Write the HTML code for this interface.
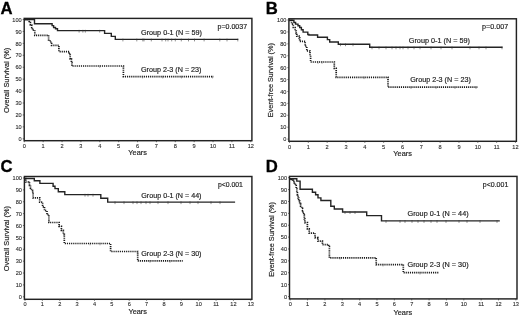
<!DOCTYPE html><html><head><meta charset="utf-8"><style>html,body{margin:0;padding:0;background:#fff;}svg{display:block;filter:grayscale(1);}text{font-family:"Liberation Sans",sans-serif;}</style></head><body>
<svg width="520" height="318" viewBox="0 0 520 318">
<rect width="520" height="318" fill="#fff"/>
<g><text x="0.6" y="14.0" font-size="16.7" font-weight="bold" fill="#000" stroke="#000" stroke-width="0.3">A</text><rect x="24.2" y="18.4" width="227.70" height="122.30" fill="none" stroke="#222" stroke-width="1.45"/><line x1="22.70" y1="138.80" x2="24.20" y2="138.80" stroke="#333" stroke-width="0.7"/><text x="21.70" y="141.00" font-size="5.6" text-anchor="end" fill="#2a2a2a" stroke="#2a2a2a" stroke-width="0.1">0</text><line x1="22.70" y1="126.87" x2="24.20" y2="126.87" stroke="#333" stroke-width="0.7"/><text x="21.70" y="129.07" font-size="5.6" text-anchor="end" fill="#2a2a2a" stroke="#2a2a2a" stroke-width="0.1">10</text><line x1="22.70" y1="114.94" x2="24.20" y2="114.94" stroke="#333" stroke-width="0.7"/><text x="21.70" y="117.14" font-size="5.6" text-anchor="end" fill="#2a2a2a" stroke="#2a2a2a" stroke-width="0.1">20</text><line x1="22.70" y1="103.01" x2="24.20" y2="103.01" stroke="#333" stroke-width="0.7"/><text x="21.70" y="105.21" font-size="5.6" text-anchor="end" fill="#2a2a2a" stroke="#2a2a2a" stroke-width="0.1">30</text><line x1="22.70" y1="91.08" x2="24.20" y2="91.08" stroke="#333" stroke-width="0.7"/><text x="21.70" y="93.28" font-size="5.6" text-anchor="end" fill="#2a2a2a" stroke="#2a2a2a" stroke-width="0.1">40</text><line x1="22.70" y1="79.15" x2="24.20" y2="79.15" stroke="#333" stroke-width="0.7"/><text x="21.70" y="81.35" font-size="5.6" text-anchor="end" fill="#2a2a2a" stroke="#2a2a2a" stroke-width="0.1">50</text><line x1="22.70" y1="67.22" x2="24.20" y2="67.22" stroke="#333" stroke-width="0.7"/><text x="21.70" y="69.42" font-size="5.6" text-anchor="end" fill="#2a2a2a" stroke="#2a2a2a" stroke-width="0.1">60</text><line x1="22.70" y1="55.29" x2="24.20" y2="55.29" stroke="#333" stroke-width="0.7"/><text x="21.70" y="57.49" font-size="5.6" text-anchor="end" fill="#2a2a2a" stroke="#2a2a2a" stroke-width="0.1">70</text><line x1="22.70" y1="43.36" x2="24.20" y2="43.36" stroke="#333" stroke-width="0.7"/><text x="21.70" y="45.56" font-size="5.6" text-anchor="end" fill="#2a2a2a" stroke="#2a2a2a" stroke-width="0.1">80</text><line x1="22.70" y1="31.43" x2="24.20" y2="31.43" stroke="#333" stroke-width="0.7"/><text x="21.70" y="33.63" font-size="5.6" text-anchor="end" fill="#2a2a2a" stroke="#2a2a2a" stroke-width="0.1">90</text><line x1="22.70" y1="19.50" x2="24.20" y2="19.50" stroke="#333" stroke-width="0.7"/><text x="21.70" y="21.70" font-size="5.6" text-anchor="end" fill="#2a2a2a" stroke="#2a2a2a" stroke-width="0.1">100</text><line x1="24.30" y1="140.70" x2="24.30" y2="142.20" stroke="#333" stroke-width="0.7"/><text x="24.30" y="147.70" font-size="5.6" text-anchor="middle" fill="#2a2a2a" stroke="#2a2a2a" stroke-width="0.1">0</text><line x1="43.17" y1="140.70" x2="43.17" y2="142.20" stroke="#333" stroke-width="0.7"/><text x="43.17" y="147.70" font-size="5.6" text-anchor="middle" fill="#2a2a2a" stroke="#2a2a2a" stroke-width="0.1">1</text><line x1="62.05" y1="140.70" x2="62.05" y2="142.20" stroke="#333" stroke-width="0.7"/><text x="62.05" y="147.70" font-size="5.6" text-anchor="middle" fill="#2a2a2a" stroke="#2a2a2a" stroke-width="0.1">2</text><line x1="80.92" y1="140.70" x2="80.92" y2="142.20" stroke="#333" stroke-width="0.7"/><text x="80.92" y="147.70" font-size="5.6" text-anchor="middle" fill="#2a2a2a" stroke="#2a2a2a" stroke-width="0.1">3</text><line x1="99.80" y1="140.70" x2="99.80" y2="142.20" stroke="#333" stroke-width="0.7"/><text x="99.80" y="147.70" font-size="5.6" text-anchor="middle" fill="#2a2a2a" stroke="#2a2a2a" stroke-width="0.1">4</text><line x1="118.67" y1="140.70" x2="118.67" y2="142.20" stroke="#333" stroke-width="0.7"/><text x="118.67" y="147.70" font-size="5.6" text-anchor="middle" fill="#2a2a2a" stroke="#2a2a2a" stroke-width="0.1">5</text><line x1="137.55" y1="140.70" x2="137.55" y2="142.20" stroke="#333" stroke-width="0.7"/><text x="137.55" y="147.70" font-size="5.6" text-anchor="middle" fill="#2a2a2a" stroke="#2a2a2a" stroke-width="0.1">6</text><line x1="156.43" y1="140.70" x2="156.43" y2="142.20" stroke="#333" stroke-width="0.7"/><text x="156.43" y="147.70" font-size="5.6" text-anchor="middle" fill="#2a2a2a" stroke="#2a2a2a" stroke-width="0.1">7</text><line x1="175.30" y1="140.70" x2="175.30" y2="142.20" stroke="#333" stroke-width="0.7"/><text x="175.30" y="147.70" font-size="5.6" text-anchor="middle" fill="#2a2a2a" stroke="#2a2a2a" stroke-width="0.1">8</text><line x1="194.18" y1="140.70" x2="194.18" y2="142.20" stroke="#333" stroke-width="0.7"/><text x="194.18" y="147.70" font-size="5.6" text-anchor="middle" fill="#2a2a2a" stroke="#2a2a2a" stroke-width="0.1">9</text><line x1="213.05" y1="140.70" x2="213.05" y2="142.20" stroke="#333" stroke-width="0.7"/><text x="213.05" y="147.70" font-size="5.6" text-anchor="middle" fill="#2a2a2a" stroke="#2a2a2a" stroke-width="0.1">10</text><line x1="231.93" y1="140.70" x2="231.93" y2="142.20" stroke="#333" stroke-width="0.7"/><text x="231.93" y="147.70" font-size="5.6" text-anchor="middle" fill="#2a2a2a" stroke="#2a2a2a" stroke-width="0.1">11</text><line x1="250.80" y1="140.70" x2="250.80" y2="142.20" stroke="#333" stroke-width="0.7"/><text x="250.80" y="147.70" font-size="5.6" text-anchor="middle" fill="#2a2a2a" stroke="#2a2a2a" stroke-width="0.1">12</text><text x="137.60" y="155.30" font-size="7.4" text-anchor="middle" fill="#1e1e1e" stroke="#1e1e1e" stroke-width="0.18" textLength="18.6" lengthAdjust="spacingAndGlyphs">Years</text><text transform="translate(8.80,80.40) rotate(-90)" font-size="7.3" text-anchor="middle" fill="#1e1e1e" stroke="#1e1e1e" stroke-width="0.18" textLength="65.3" lengthAdjust="spacingAndGlyphs">Overall Survival (%)</text><text x="217.60" y="28.90" font-size="7.3" fill="#1e1e1e" stroke="#1e1e1e" stroke-width="0.18" textLength="29.50" lengthAdjust="spacingAndGlyphs">p=0.0037</text><text x="141.00" y="34.90" font-size="7.3" fill="#1e1e1e" stroke="#1e1e1e" stroke-width="0.18" textLength="61.00" lengthAdjust="spacingAndGlyphs">Group 0-1 (N = 59)</text><text x="141.00" y="72.30" font-size="7.3" fill="#1e1e1e" stroke="#1e1e1e" stroke-width="0.18" textLength="60.50" lengthAdjust="spacingAndGlyphs">Group 2-3 (N = 23)</text><path d="M24.40,19.60H34.50V23.70H52.10V25.60H53.60V27.50H55.50V28.70H57.50V30.60H104.60V33.40H111.30V36.40H115.30V39.40H238.30" fill="none" stroke="#242424" stroke-width="1.4" stroke-linejoin="miter"/><line x1="79.1" y1="29.80" x2="79.1" y2="32.60" stroke="#333" stroke-width="0.55"/><line x1="82.9" y1="29.80" x2="82.9" y2="32.60" stroke="#333" stroke-width="0.55"/><line x1="85.3" y1="29.80" x2="85.3" y2="32.60" stroke="#333" stroke-width="0.55"/><line x1="99.7" y1="29.80" x2="99.7" y2="32.60" stroke="#333" stroke-width="0.55"/><line x1="122.9" y1="38.60" x2="122.9" y2="41.40" stroke="#333" stroke-width="0.55"/><line x1="136.8" y1="38.60" x2="136.8" y2="41.40" stroke="#333" stroke-width="0.55"/><line x1="142.8" y1="38.60" x2="142.8" y2="41.40" stroke="#333" stroke-width="0.55"/><line x1="144" y1="38.60" x2="144" y2="41.40" stroke="#333" stroke-width="0.55"/><line x1="151.3" y1="38.60" x2="151.3" y2="41.40" stroke="#333" stroke-width="0.55"/><line x1="162" y1="38.60" x2="162" y2="41.40" stroke="#333" stroke-width="0.55"/><line x1="165.7" y1="38.60" x2="165.7" y2="41.40" stroke="#333" stroke-width="0.55"/><line x1="168" y1="38.60" x2="168" y2="41.40" stroke="#333" stroke-width="0.55"/><line x1="171.7" y1="38.60" x2="171.7" y2="41.40" stroke="#333" stroke-width="0.55"/><line x1="175.3" y1="38.60" x2="175.3" y2="41.40" stroke="#333" stroke-width="0.55"/><line x1="181.3" y1="38.60" x2="181.3" y2="41.40" stroke="#333" stroke-width="0.55"/><line x1="188.5" y1="38.60" x2="188.5" y2="41.40" stroke="#333" stroke-width="0.55"/><line x1="194.5" y1="38.60" x2="194.5" y2="41.40" stroke="#333" stroke-width="0.55"/><line x1="204.1" y1="38.60" x2="204.1" y2="41.40" stroke="#333" stroke-width="0.55"/><line x1="219.8" y1="38.60" x2="219.8" y2="41.40" stroke="#333" stroke-width="0.55"/><line x1="227" y1="38.60" x2="227" y2="41.40" stroke="#333" stroke-width="0.55"/><line x1="237.8" y1="38.60" x2="237.8" y2="41.40" stroke="#333" stroke-width="0.55"/><path d="M24.40,19.60H29.20V22.50H30.40V25.00H31.70V27.50H32.50V30.20H34.80V35.30H48.60V40.00H50.00V42.00H51.60V45.30H58.90V51.60H69.20V54.50H70.20V58.90H71.40V62.70H71.90V66.00H123.40V76.60H213.40" fill="none" stroke="#1a1a1a" stroke-width="1.7" stroke-dasharray="1.15 0.95"/><line x1="99.8" y1="65.20" x2="99.8" y2="67.80" stroke="#444" stroke-width="0.5"/><line x1="142.6" y1="75.80" x2="142.6" y2="78.40" stroke="#444" stroke-width="0.5"/><line x1="162.7" y1="75.80" x2="162.7" y2="78.40" stroke="#444" stroke-width="0.5"/><line x1="181.5" y1="75.80" x2="181.5" y2="78.40" stroke="#444" stroke-width="0.5"/><line x1="212.5" y1="75.80" x2="212.5" y2="78.40" stroke="#444" stroke-width="0.5"/></g>
<g><text x="265.8" y="14.0" font-size="16.7" font-weight="bold" fill="#000" stroke="#000" stroke-width="0.3">B</text><rect x="288.9" y="18.8" width="227.50" height="122.50" fill="none" stroke="#222" stroke-width="1.45"/><line x1="287.40" y1="139.10" x2="288.90" y2="139.10" stroke="#333" stroke-width="0.7"/><text x="286.40" y="141.30" font-size="5.6" text-anchor="end" fill="#2a2a2a" stroke="#2a2a2a" stroke-width="0.1">0</text><line x1="287.40" y1="127.19" x2="288.90" y2="127.19" stroke="#333" stroke-width="0.7"/><text x="286.40" y="129.39" font-size="5.6" text-anchor="end" fill="#2a2a2a" stroke="#2a2a2a" stroke-width="0.1">10</text><line x1="287.40" y1="115.28" x2="288.90" y2="115.28" stroke="#333" stroke-width="0.7"/><text x="286.40" y="117.48" font-size="5.6" text-anchor="end" fill="#2a2a2a" stroke="#2a2a2a" stroke-width="0.1">20</text><line x1="287.40" y1="103.37" x2="288.90" y2="103.37" stroke="#333" stroke-width="0.7"/><text x="286.40" y="105.57" font-size="5.6" text-anchor="end" fill="#2a2a2a" stroke="#2a2a2a" stroke-width="0.1">30</text><line x1="287.40" y1="91.46" x2="288.90" y2="91.46" stroke="#333" stroke-width="0.7"/><text x="286.40" y="93.66" font-size="5.6" text-anchor="end" fill="#2a2a2a" stroke="#2a2a2a" stroke-width="0.1">40</text><line x1="287.40" y1="79.55" x2="288.90" y2="79.55" stroke="#333" stroke-width="0.7"/><text x="286.40" y="81.75" font-size="5.6" text-anchor="end" fill="#2a2a2a" stroke="#2a2a2a" stroke-width="0.1">50</text><line x1="287.40" y1="67.64" x2="288.90" y2="67.64" stroke="#333" stroke-width="0.7"/><text x="286.40" y="69.84" font-size="5.6" text-anchor="end" fill="#2a2a2a" stroke="#2a2a2a" stroke-width="0.1">60</text><line x1="287.40" y1="55.73" x2="288.90" y2="55.73" stroke="#333" stroke-width="0.7"/><text x="286.40" y="57.93" font-size="5.6" text-anchor="end" fill="#2a2a2a" stroke="#2a2a2a" stroke-width="0.1">70</text><line x1="287.40" y1="43.82" x2="288.90" y2="43.82" stroke="#333" stroke-width="0.7"/><text x="286.40" y="46.02" font-size="5.6" text-anchor="end" fill="#2a2a2a" stroke="#2a2a2a" stroke-width="0.1">80</text><line x1="287.40" y1="31.91" x2="288.90" y2="31.91" stroke="#333" stroke-width="0.7"/><text x="286.40" y="34.11" font-size="5.6" text-anchor="end" fill="#2a2a2a" stroke="#2a2a2a" stroke-width="0.1">90</text><line x1="287.40" y1="20.00" x2="288.90" y2="20.00" stroke="#333" stroke-width="0.7"/><text x="286.40" y="22.20" font-size="5.6" text-anchor="end" fill="#2a2a2a" stroke="#2a2a2a" stroke-width="0.1">100</text><line x1="289.50" y1="141.30" x2="289.50" y2="142.80" stroke="#333" stroke-width="0.7"/><text x="289.50" y="148.70" font-size="5.6" text-anchor="middle" fill="#2a2a2a" stroke="#2a2a2a" stroke-width="0.1">0</text><line x1="308.33" y1="141.30" x2="308.33" y2="142.80" stroke="#333" stroke-width="0.7"/><text x="308.33" y="148.70" font-size="5.6" text-anchor="middle" fill="#2a2a2a" stroke="#2a2a2a" stroke-width="0.1">1</text><line x1="327.16" y1="141.30" x2="327.16" y2="142.80" stroke="#333" stroke-width="0.7"/><text x="327.16" y="148.70" font-size="5.6" text-anchor="middle" fill="#2a2a2a" stroke="#2a2a2a" stroke-width="0.1">2</text><line x1="345.99" y1="141.30" x2="345.99" y2="142.80" stroke="#333" stroke-width="0.7"/><text x="345.99" y="148.70" font-size="5.6" text-anchor="middle" fill="#2a2a2a" stroke="#2a2a2a" stroke-width="0.1">3</text><line x1="364.82" y1="141.30" x2="364.82" y2="142.80" stroke="#333" stroke-width="0.7"/><text x="364.82" y="148.70" font-size="5.6" text-anchor="middle" fill="#2a2a2a" stroke="#2a2a2a" stroke-width="0.1">4</text><line x1="383.65" y1="141.30" x2="383.65" y2="142.80" stroke="#333" stroke-width="0.7"/><text x="383.65" y="148.70" font-size="5.6" text-anchor="middle" fill="#2a2a2a" stroke="#2a2a2a" stroke-width="0.1">5</text><line x1="402.48" y1="141.30" x2="402.48" y2="142.80" stroke="#333" stroke-width="0.7"/><text x="402.48" y="148.70" font-size="5.6" text-anchor="middle" fill="#2a2a2a" stroke="#2a2a2a" stroke-width="0.1">6</text><line x1="421.31" y1="141.30" x2="421.31" y2="142.80" stroke="#333" stroke-width="0.7"/><text x="421.31" y="148.70" font-size="5.6" text-anchor="middle" fill="#2a2a2a" stroke="#2a2a2a" stroke-width="0.1">7</text><line x1="440.14" y1="141.30" x2="440.14" y2="142.80" stroke="#333" stroke-width="0.7"/><text x="440.14" y="148.70" font-size="5.6" text-anchor="middle" fill="#2a2a2a" stroke="#2a2a2a" stroke-width="0.1">8</text><line x1="458.97" y1="141.30" x2="458.97" y2="142.80" stroke="#333" stroke-width="0.7"/><text x="458.97" y="148.70" font-size="5.6" text-anchor="middle" fill="#2a2a2a" stroke="#2a2a2a" stroke-width="0.1">9</text><line x1="477.80" y1="141.30" x2="477.80" y2="142.80" stroke="#333" stroke-width="0.7"/><text x="477.80" y="148.70" font-size="5.6" text-anchor="middle" fill="#2a2a2a" stroke="#2a2a2a" stroke-width="0.1">10</text><line x1="496.63" y1="141.30" x2="496.63" y2="142.80" stroke="#333" stroke-width="0.7"/><text x="496.63" y="148.70" font-size="5.6" text-anchor="middle" fill="#2a2a2a" stroke="#2a2a2a" stroke-width="0.1">11</text><line x1="515.46" y1="141.30" x2="515.46" y2="142.80" stroke="#333" stroke-width="0.7"/><text x="515.46" y="148.70" font-size="5.6" text-anchor="middle" fill="#2a2a2a" stroke="#2a2a2a" stroke-width="0.1">12</text><text x="402.60" y="155.90" font-size="7.4" text-anchor="middle" fill="#1e1e1e" stroke="#1e1e1e" stroke-width="0.18" textLength="18.6" lengthAdjust="spacingAndGlyphs">Years</text><text transform="translate(273.40,80.20) rotate(-90)" font-size="7.3" text-anchor="middle" fill="#1e1e1e" stroke="#1e1e1e" stroke-width="0.18" textLength="74.0" lengthAdjust="spacingAndGlyphs">Event-free Survival (%)</text><text x="482.00" y="29.00" font-size="7.3" fill="#1e1e1e" stroke="#1e1e1e" stroke-width="0.18" textLength="26.20" lengthAdjust="spacingAndGlyphs">p=0.007</text><text x="408.80" y="42.70" font-size="7.3" fill="#1e1e1e" stroke="#1e1e1e" stroke-width="0.18" textLength="61.20" lengthAdjust="spacingAndGlyphs">Group 0-1 (N = 59)</text><text x="410.20" y="82.20" font-size="7.3" fill="#1e1e1e" stroke="#1e1e1e" stroke-width="0.18" textLength="60.60" lengthAdjust="spacingAndGlyphs">Group 2-3 (N = 23)</text><path d="M289.30,20.30H293.90V22.50H295.60V24.10H298.00V25.80H299.70V27.50H301.40V29.80H303.10V32.10H307.80V34.50H308.90V35.00H317.60V37.30H327.40V39.60H329.70V42.00H338.30V44.20H369.70V47.30H502.60" fill="none" stroke="#242424" stroke-width="1.4" stroke-linejoin="miter"/><line x1="340.5" y1="43.40" x2="340.5" y2="46.20" stroke="#333" stroke-width="0.55"/><line x1="345.5" y1="43.40" x2="345.5" y2="46.20" stroke="#333" stroke-width="0.55"/><line x1="353" y1="43.40" x2="353" y2="46.20" stroke="#333" stroke-width="0.55"/><line x1="372" y1="46.50" x2="372" y2="49.30" stroke="#333" stroke-width="0.55"/><line x1="379" y1="46.50" x2="379" y2="49.30" stroke="#333" stroke-width="0.55"/><line x1="386" y1="46.50" x2="386" y2="49.30" stroke="#333" stroke-width="0.55"/><line x1="392" y1="46.50" x2="392" y2="49.30" stroke="#333" stroke-width="0.55"/><line x1="396" y1="46.50" x2="396" y2="49.30" stroke="#333" stroke-width="0.55"/><line x1="400" y1="46.50" x2="400" y2="49.30" stroke="#333" stroke-width="0.55"/><line x1="403" y1="46.50" x2="403" y2="49.30" stroke="#333" stroke-width="0.55"/><line x1="408" y1="46.50" x2="408" y2="49.30" stroke="#333" stroke-width="0.55"/><line x1="414" y1="46.50" x2="414" y2="49.30" stroke="#333" stroke-width="0.55"/><line x1="420" y1="46.50" x2="420" y2="49.30" stroke="#333" stroke-width="0.55"/><line x1="431" y1="46.50" x2="431" y2="49.30" stroke="#333" stroke-width="0.55"/><line x1="441" y1="46.50" x2="441" y2="49.30" stroke="#333" stroke-width="0.55"/><line x1="452" y1="46.50" x2="452" y2="49.30" stroke="#333" stroke-width="0.55"/><line x1="470" y1="46.50" x2="470" y2="49.30" stroke="#333" stroke-width="0.55"/><line x1="479" y1="46.50" x2="479" y2="49.30" stroke="#333" stroke-width="0.55"/><line x1="486" y1="46.50" x2="486" y2="49.30" stroke="#333" stroke-width="0.55"/><line x1="502" y1="46.50" x2="502" y2="49.30" stroke="#333" stroke-width="0.55"/><path d="M289.30,20.30H291.60V24.10H293.30V27.50H295.10V31.00H296.20V33.30H296.80V36.20H299.10V37.90H299.70V41.30H305.20V46.30H306.80V51.00H310.00V55.70H310.60V62.00H334.30V68.30H336.20V77.30H388.00V87.20H477.40" fill="none" stroke="#1a1a1a" stroke-width="1.7" stroke-dasharray="1.15 0.95"/><line x1="318" y1="61.20" x2="318" y2="63.80" stroke="#444" stroke-width="0.5"/><line x1="322" y1="61.20" x2="322" y2="63.80" stroke="#444" stroke-width="0.5"/><line x1="364" y1="76.50" x2="364" y2="79.10" stroke="#444" stroke-width="0.5"/><line x1="411" y1="86.40" x2="411" y2="89.00" stroke="#444" stroke-width="0.5"/><line x1="436" y1="86.40" x2="436" y2="89.00" stroke="#444" stroke-width="0.5"/><line x1="455" y1="86.40" x2="455" y2="89.00" stroke="#444" stroke-width="0.5"/><line x1="476" y1="86.40" x2="476" y2="89.00" stroke="#444" stroke-width="0.5"/></g>
<g><text x="0.6" y="171.6" font-size="16.7" font-weight="bold" fill="#000" stroke="#000" stroke-width="0.3">C</text><rect x="24.4" y="176.5" width="227.50" height="122.80" fill="none" stroke="#222" stroke-width="1.45"/><line x1="22.90" y1="296.80" x2="24.40" y2="296.80" stroke="#333" stroke-width="0.7"/><text x="21.90" y="299.00" font-size="5.6" text-anchor="end" fill="#2a2a2a" stroke="#2a2a2a" stroke-width="0.1">0</text><line x1="22.90" y1="284.92" x2="24.40" y2="284.92" stroke="#333" stroke-width="0.7"/><text x="21.90" y="287.12" font-size="5.6" text-anchor="end" fill="#2a2a2a" stroke="#2a2a2a" stroke-width="0.1">10</text><line x1="22.90" y1="273.04" x2="24.40" y2="273.04" stroke="#333" stroke-width="0.7"/><text x="21.90" y="275.24" font-size="5.6" text-anchor="end" fill="#2a2a2a" stroke="#2a2a2a" stroke-width="0.1">20</text><line x1="22.90" y1="261.16" x2="24.40" y2="261.16" stroke="#333" stroke-width="0.7"/><text x="21.90" y="263.36" font-size="5.6" text-anchor="end" fill="#2a2a2a" stroke="#2a2a2a" stroke-width="0.1">30</text><line x1="22.90" y1="249.28" x2="24.40" y2="249.28" stroke="#333" stroke-width="0.7"/><text x="21.90" y="251.48" font-size="5.6" text-anchor="end" fill="#2a2a2a" stroke="#2a2a2a" stroke-width="0.1">40</text><line x1="22.90" y1="237.40" x2="24.40" y2="237.40" stroke="#333" stroke-width="0.7"/><text x="21.90" y="239.60" font-size="5.6" text-anchor="end" fill="#2a2a2a" stroke="#2a2a2a" stroke-width="0.1">50</text><line x1="22.90" y1="225.52" x2="24.40" y2="225.52" stroke="#333" stroke-width="0.7"/><text x="21.90" y="227.72" font-size="5.6" text-anchor="end" fill="#2a2a2a" stroke="#2a2a2a" stroke-width="0.1">60</text><line x1="22.90" y1="213.64" x2="24.40" y2="213.64" stroke="#333" stroke-width="0.7"/><text x="21.90" y="215.84" font-size="5.6" text-anchor="end" fill="#2a2a2a" stroke="#2a2a2a" stroke-width="0.1">70</text><line x1="22.90" y1="201.76" x2="24.40" y2="201.76" stroke="#333" stroke-width="0.7"/><text x="21.90" y="203.96" font-size="5.6" text-anchor="end" fill="#2a2a2a" stroke="#2a2a2a" stroke-width="0.1">80</text><line x1="22.90" y1="189.88" x2="24.40" y2="189.88" stroke="#333" stroke-width="0.7"/><text x="21.90" y="192.08" font-size="5.6" text-anchor="end" fill="#2a2a2a" stroke="#2a2a2a" stroke-width="0.1">90</text><line x1="22.90" y1="178.00" x2="24.40" y2="178.00" stroke="#333" stroke-width="0.7"/><text x="21.90" y="180.20" font-size="5.6" text-anchor="end" fill="#2a2a2a" stroke="#2a2a2a" stroke-width="0.1">100</text><line x1="25.00" y1="299.30" x2="25.00" y2="300.80" stroke="#333" stroke-width="0.7"/><text x="25.00" y="306.30" font-size="5.6" text-anchor="middle" fill="#2a2a2a" stroke="#2a2a2a" stroke-width="0.1">0</text><line x1="42.37" y1="299.30" x2="42.37" y2="300.80" stroke="#333" stroke-width="0.7"/><text x="42.37" y="306.30" font-size="5.6" text-anchor="middle" fill="#2a2a2a" stroke="#2a2a2a" stroke-width="0.1">1</text><line x1="59.74" y1="299.30" x2="59.74" y2="300.80" stroke="#333" stroke-width="0.7"/><text x="59.74" y="306.30" font-size="5.6" text-anchor="middle" fill="#2a2a2a" stroke="#2a2a2a" stroke-width="0.1">2</text><line x1="77.11" y1="299.30" x2="77.11" y2="300.80" stroke="#333" stroke-width="0.7"/><text x="77.11" y="306.30" font-size="5.6" text-anchor="middle" fill="#2a2a2a" stroke="#2a2a2a" stroke-width="0.1">3</text><line x1="94.48" y1="299.30" x2="94.48" y2="300.80" stroke="#333" stroke-width="0.7"/><text x="94.48" y="306.30" font-size="5.6" text-anchor="middle" fill="#2a2a2a" stroke="#2a2a2a" stroke-width="0.1">4</text><line x1="111.85" y1="299.30" x2="111.85" y2="300.80" stroke="#333" stroke-width="0.7"/><text x="111.85" y="306.30" font-size="5.6" text-anchor="middle" fill="#2a2a2a" stroke="#2a2a2a" stroke-width="0.1">5</text><line x1="129.22" y1="299.30" x2="129.22" y2="300.80" stroke="#333" stroke-width="0.7"/><text x="129.22" y="306.30" font-size="5.6" text-anchor="middle" fill="#2a2a2a" stroke="#2a2a2a" stroke-width="0.1">6</text><line x1="146.59" y1="299.30" x2="146.59" y2="300.80" stroke="#333" stroke-width="0.7"/><text x="146.59" y="306.30" font-size="5.6" text-anchor="middle" fill="#2a2a2a" stroke="#2a2a2a" stroke-width="0.1">7</text><line x1="163.96" y1="299.30" x2="163.96" y2="300.80" stroke="#333" stroke-width="0.7"/><text x="163.96" y="306.30" font-size="5.6" text-anchor="middle" fill="#2a2a2a" stroke="#2a2a2a" stroke-width="0.1">8</text><line x1="181.33" y1="299.30" x2="181.33" y2="300.80" stroke="#333" stroke-width="0.7"/><text x="181.33" y="306.30" font-size="5.6" text-anchor="middle" fill="#2a2a2a" stroke="#2a2a2a" stroke-width="0.1">9</text><line x1="198.70" y1="299.30" x2="198.70" y2="300.80" stroke="#333" stroke-width="0.7"/><text x="198.70" y="306.30" font-size="5.6" text-anchor="middle" fill="#2a2a2a" stroke="#2a2a2a" stroke-width="0.1">10</text><line x1="216.07" y1="299.30" x2="216.07" y2="300.80" stroke="#333" stroke-width="0.7"/><text x="216.07" y="306.30" font-size="5.6" text-anchor="middle" fill="#2a2a2a" stroke="#2a2a2a" stroke-width="0.1">11</text><line x1="233.44" y1="299.30" x2="233.44" y2="300.80" stroke="#333" stroke-width="0.7"/><text x="233.44" y="306.30" font-size="5.6" text-anchor="middle" fill="#2a2a2a" stroke="#2a2a2a" stroke-width="0.1">12</text><line x1="250.81" y1="299.30" x2="250.81" y2="300.80" stroke="#333" stroke-width="0.7"/><text x="250.81" y="306.30" font-size="5.6" text-anchor="middle" fill="#2a2a2a" stroke="#2a2a2a" stroke-width="0.1">13</text><text x="137.70" y="314.40" font-size="7.4" text-anchor="middle" fill="#1e1e1e" stroke="#1e1e1e" stroke-width="0.18" textLength="18.6" lengthAdjust="spacingAndGlyphs">Years</text><text transform="translate(9.00,238.60) rotate(-90)" font-size="7.3" text-anchor="middle" fill="#1e1e1e" stroke="#1e1e1e" stroke-width="0.18" textLength="65.3" lengthAdjust="spacingAndGlyphs">Overall Survival (%)</text><text x="217.90" y="187.10" font-size="7.3" fill="#1e1e1e" stroke="#1e1e1e" stroke-width="0.18" textLength="25.00" lengthAdjust="spacingAndGlyphs">p<0.001</text><text x="141.30" y="198.20" font-size="7.3" fill="#1e1e1e" stroke="#1e1e1e" stroke-width="0.18" textLength="60.20" lengthAdjust="spacingAndGlyphs">Group 0-1 (N = 44)</text><text x="141.30" y="256.40" font-size="7.3" fill="#1e1e1e" stroke="#1e1e1e" stroke-width="0.18" textLength="60.20" lengthAdjust="spacingAndGlyphs">Group 2-3 (N = 30)</text><path d="M24.80,178.50H34.30V180.70H39.90V183.40H53.10V186.30H55.00V188.60H58.30V191.70H64.80V194.60H100.80V198.30H107.70V202.10H235.10" fill="none" stroke="#242424" stroke-width="1.4" stroke-linejoin="miter"/><line x1="85" y1="193.80" x2="85" y2="196.60" stroke="#333" stroke-width="0.55"/><line x1="88" y1="193.80" x2="88" y2="196.60" stroke="#333" stroke-width="0.55"/><line x1="93" y1="193.80" x2="93" y2="196.60" stroke="#333" stroke-width="0.55"/><line x1="115" y1="201.30" x2="115" y2="204.10" stroke="#333" stroke-width="0.55"/><line x1="124" y1="201.30" x2="124" y2="204.10" stroke="#333" stroke-width="0.55"/><line x1="133" y1="201.30" x2="133" y2="204.10" stroke="#333" stroke-width="0.55"/><line x1="137" y1="201.30" x2="137" y2="204.10" stroke="#333" stroke-width="0.55"/><line x1="141" y1="201.30" x2="141" y2="204.10" stroke="#333" stroke-width="0.55"/><line x1="146" y1="201.30" x2="146" y2="204.10" stroke="#333" stroke-width="0.55"/><line x1="150" y1="201.30" x2="150" y2="204.10" stroke="#333" stroke-width="0.55"/><line x1="158" y1="201.30" x2="158" y2="204.10" stroke="#333" stroke-width="0.55"/><line x1="168" y1="201.30" x2="168" y2="204.10" stroke="#333" stroke-width="0.55"/><line x1="181" y1="201.30" x2="181" y2="204.10" stroke="#333" stroke-width="0.55"/><line x1="190" y1="201.30" x2="190" y2="204.10" stroke="#333" stroke-width="0.55"/><line x1="198" y1="201.30" x2="198" y2="204.10" stroke="#333" stroke-width="0.55"/><line x1="211" y1="201.30" x2="211" y2="204.10" stroke="#333" stroke-width="0.55"/><line x1="220" y1="201.30" x2="220" y2="204.10" stroke="#333" stroke-width="0.55"/><path d="M24.80,178.50H25.80V182.00H28.60V183.00H29.50V185.30H30.50V188.20H31.40V190.50H32.80V192.90H33.10V197.90H39.70V202.10H42.60V206.80H44.50V210.70H47.00V214.70H48.90V222.50H59.10V226.40H61.40V230.40H63.30V234.30H64.30V243.50H110.60V251.50H137.70V260.90H182.70" fill="none" stroke="#1a1a1a" stroke-width="1.7" stroke-dasharray="1.15 0.95"/><line x1="90" y1="242.70" x2="90" y2="245.30" stroke="#444" stroke-width="0.5"/><line x1="100" y1="242.70" x2="100" y2="245.30" stroke="#444" stroke-width="0.5"/><line x1="150" y1="260.10" x2="150" y2="262.70" stroke="#444" stroke-width="0.5"/><line x1="170" y1="260.10" x2="170" y2="262.70" stroke="#444" stroke-width="0.5"/></g>
<g><text x="265.8" y="171.6" font-size="16.7" font-weight="bold" fill="#000" stroke="#000" stroke-width="0.3">D</text><rect x="289.5" y="176.4" width="227.50" height="122.50" fill="none" stroke="#222" stroke-width="1.45"/><line x1="288.00" y1="296.50" x2="289.50" y2="296.50" stroke="#333" stroke-width="0.7"/><text x="287.00" y="298.70" font-size="5.6" text-anchor="end" fill="#2a2a2a" stroke="#2a2a2a" stroke-width="0.1">0</text><line x1="288.00" y1="284.62" x2="289.50" y2="284.62" stroke="#333" stroke-width="0.7"/><text x="287.00" y="286.82" font-size="5.6" text-anchor="end" fill="#2a2a2a" stroke="#2a2a2a" stroke-width="0.1">10</text><line x1="288.00" y1="272.74" x2="289.50" y2="272.74" stroke="#333" stroke-width="0.7"/><text x="287.00" y="274.94" font-size="5.6" text-anchor="end" fill="#2a2a2a" stroke="#2a2a2a" stroke-width="0.1">20</text><line x1="288.00" y1="260.86" x2="289.50" y2="260.86" stroke="#333" stroke-width="0.7"/><text x="287.00" y="263.06" font-size="5.6" text-anchor="end" fill="#2a2a2a" stroke="#2a2a2a" stroke-width="0.1">30</text><line x1="288.00" y1="248.98" x2="289.50" y2="248.98" stroke="#333" stroke-width="0.7"/><text x="287.00" y="251.18" font-size="5.6" text-anchor="end" fill="#2a2a2a" stroke="#2a2a2a" stroke-width="0.1">40</text><line x1="288.00" y1="237.10" x2="289.50" y2="237.10" stroke="#333" stroke-width="0.7"/><text x="287.00" y="239.30" font-size="5.6" text-anchor="end" fill="#2a2a2a" stroke="#2a2a2a" stroke-width="0.1">50</text><line x1="288.00" y1="225.22" x2="289.50" y2="225.22" stroke="#333" stroke-width="0.7"/><text x="287.00" y="227.42" font-size="5.6" text-anchor="end" fill="#2a2a2a" stroke="#2a2a2a" stroke-width="0.1">60</text><line x1="288.00" y1="213.34" x2="289.50" y2="213.34" stroke="#333" stroke-width="0.7"/><text x="287.00" y="215.54" font-size="5.6" text-anchor="end" fill="#2a2a2a" stroke="#2a2a2a" stroke-width="0.1">70</text><line x1="288.00" y1="201.46" x2="289.50" y2="201.46" stroke="#333" stroke-width="0.7"/><text x="287.00" y="203.66" font-size="5.6" text-anchor="end" fill="#2a2a2a" stroke="#2a2a2a" stroke-width="0.1">80</text><line x1="288.00" y1="189.58" x2="289.50" y2="189.58" stroke="#333" stroke-width="0.7"/><text x="287.00" y="191.78" font-size="5.6" text-anchor="end" fill="#2a2a2a" stroke="#2a2a2a" stroke-width="0.1">90</text><line x1="288.00" y1="177.70" x2="289.50" y2="177.70" stroke="#333" stroke-width="0.7"/><text x="287.00" y="179.90" font-size="5.6" text-anchor="end" fill="#2a2a2a" stroke="#2a2a2a" stroke-width="0.1">100</text><line x1="290.20" y1="298.90" x2="290.20" y2="300.40" stroke="#333" stroke-width="0.7"/><text x="290.20" y="305.90" font-size="5.6" text-anchor="middle" fill="#2a2a2a" stroke="#2a2a2a" stroke-width="0.1">0</text><line x1="307.56" y1="298.90" x2="307.56" y2="300.40" stroke="#333" stroke-width="0.7"/><text x="307.56" y="305.90" font-size="5.6" text-anchor="middle" fill="#2a2a2a" stroke="#2a2a2a" stroke-width="0.1">1</text><line x1="324.92" y1="298.90" x2="324.92" y2="300.40" stroke="#333" stroke-width="0.7"/><text x="324.92" y="305.90" font-size="5.6" text-anchor="middle" fill="#2a2a2a" stroke="#2a2a2a" stroke-width="0.1">2</text><line x1="342.28" y1="298.90" x2="342.28" y2="300.40" stroke="#333" stroke-width="0.7"/><text x="342.28" y="305.90" font-size="5.6" text-anchor="middle" fill="#2a2a2a" stroke="#2a2a2a" stroke-width="0.1">3</text><line x1="359.64" y1="298.90" x2="359.64" y2="300.40" stroke="#333" stroke-width="0.7"/><text x="359.64" y="305.90" font-size="5.6" text-anchor="middle" fill="#2a2a2a" stroke="#2a2a2a" stroke-width="0.1">4</text><line x1="377.00" y1="298.90" x2="377.00" y2="300.40" stroke="#333" stroke-width="0.7"/><text x="377.00" y="305.90" font-size="5.6" text-anchor="middle" fill="#2a2a2a" stroke="#2a2a2a" stroke-width="0.1">5</text><line x1="394.36" y1="298.90" x2="394.36" y2="300.40" stroke="#333" stroke-width="0.7"/><text x="394.36" y="305.90" font-size="5.6" text-anchor="middle" fill="#2a2a2a" stroke="#2a2a2a" stroke-width="0.1">6</text><line x1="411.72" y1="298.90" x2="411.72" y2="300.40" stroke="#333" stroke-width="0.7"/><text x="411.72" y="305.90" font-size="5.6" text-anchor="middle" fill="#2a2a2a" stroke="#2a2a2a" stroke-width="0.1">7</text><line x1="429.08" y1="298.90" x2="429.08" y2="300.40" stroke="#333" stroke-width="0.7"/><text x="429.08" y="305.90" font-size="5.6" text-anchor="middle" fill="#2a2a2a" stroke="#2a2a2a" stroke-width="0.1">8</text><line x1="446.44" y1="298.90" x2="446.44" y2="300.40" stroke="#333" stroke-width="0.7"/><text x="446.44" y="305.90" font-size="5.6" text-anchor="middle" fill="#2a2a2a" stroke="#2a2a2a" stroke-width="0.1">9</text><line x1="463.80" y1="298.90" x2="463.80" y2="300.40" stroke="#333" stroke-width="0.7"/><text x="463.80" y="305.90" font-size="5.6" text-anchor="middle" fill="#2a2a2a" stroke="#2a2a2a" stroke-width="0.1">10</text><line x1="481.16" y1="298.90" x2="481.16" y2="300.40" stroke="#333" stroke-width="0.7"/><text x="481.16" y="305.90" font-size="5.6" text-anchor="middle" fill="#2a2a2a" stroke="#2a2a2a" stroke-width="0.1">11</text><line x1="498.52" y1="298.90" x2="498.52" y2="300.40" stroke="#333" stroke-width="0.7"/><text x="498.52" y="305.90" font-size="5.6" text-anchor="middle" fill="#2a2a2a" stroke="#2a2a2a" stroke-width="0.1">12</text><line x1="515.88" y1="298.90" x2="515.88" y2="300.40" stroke="#333" stroke-width="0.7"/><text x="515.88" y="305.90" font-size="5.6" text-anchor="middle" fill="#2a2a2a" stroke="#2a2a2a" stroke-width="0.1">13</text><text x="402.80" y="314.70" font-size="7.4" text-anchor="middle" fill="#1e1e1e" stroke="#1e1e1e" stroke-width="0.18" textLength="18.6" lengthAdjust="spacingAndGlyphs">Years</text><text transform="translate(273.50,239.40) rotate(-90)" font-size="7.3" text-anchor="middle" fill="#1e1e1e" stroke="#1e1e1e" stroke-width="0.18" textLength="74.8" lengthAdjust="spacingAndGlyphs">Event-free Survival (%)</text><text x="482.80" y="187.30" font-size="7.3" fill="#1e1e1e" stroke="#1e1e1e" stroke-width="0.18" textLength="25.50" lengthAdjust="spacingAndGlyphs">p<0.001</text><text x="407.50" y="215.70" font-size="7.3" fill="#1e1e1e" stroke="#1e1e1e" stroke-width="0.18" textLength="61.10" lengthAdjust="spacingAndGlyphs">Group 0-1 (N = 44)</text><text x="407.50" y="267.10" font-size="7.3" fill="#1e1e1e" stroke="#1e1e1e" stroke-width="0.18" textLength="61.10" lengthAdjust="spacingAndGlyphs">Group 2-3 (N = 30)</text><path d="M289.60,178.80H296.80V181.10H300.10V189.30H312.40V192.20H315.60V194.80H318.00V197.90H320.90V200.50H330.80V206.20H334.30V209.00H342.60V212.00H366.70V215.60H381.50V220.90H499.80" fill="none" stroke="#242424" stroke-width="1.4" stroke-linejoin="miter"/><line x1="345" y1="211.20" x2="345" y2="214.00" stroke="#333" stroke-width="0.55"/><line x1="350" y1="211.20" x2="350" y2="214.00" stroke="#333" stroke-width="0.55"/><line x1="355" y1="211.20" x2="355" y2="214.00" stroke="#333" stroke-width="0.55"/><line x1="386" y1="220.10" x2="386" y2="222.90" stroke="#333" stroke-width="0.55"/><line x1="400" y1="220.10" x2="400" y2="222.90" stroke="#333" stroke-width="0.55"/><line x1="405" y1="220.10" x2="405" y2="222.90" stroke="#333" stroke-width="0.55"/><line x1="412" y1="220.10" x2="412" y2="222.90" stroke="#333" stroke-width="0.55"/><line x1="418" y1="220.10" x2="418" y2="222.90" stroke="#333" stroke-width="0.55"/><line x1="424" y1="220.10" x2="424" y2="222.90" stroke="#333" stroke-width="0.55"/><line x1="431" y1="220.10" x2="431" y2="222.90" stroke="#333" stroke-width="0.55"/><line x1="437" y1="220.10" x2="437" y2="222.90" stroke="#333" stroke-width="0.55"/><line x1="446" y1="220.10" x2="446" y2="222.90" stroke="#333" stroke-width="0.55"/><line x1="459" y1="220.10" x2="459" y2="222.90" stroke="#333" stroke-width="0.55"/><line x1="467" y1="220.10" x2="467" y2="222.90" stroke="#333" stroke-width="0.55"/><line x1="480" y1="220.10" x2="480" y2="222.90" stroke="#333" stroke-width="0.55"/><line x1="497" y1="220.10" x2="497" y2="222.90" stroke="#333" stroke-width="0.55"/><path d="M289.60,178.80H291.50V180.20H293.00V181.50H294.30V183.00H295.30V185.50H296.20V188.60H296.80V191.70H297.40V194.90H298.10V198.00H298.70V201.20H299.70V203.70H300.60V206.20H301.60V208.40H302.50V210.60H303.10V212.80H303.70V215.00H304.30V218.80H304.80V222.60H307.40V228.80H309.20V233.20H315.00V237.60H318.00V241.10H322.40V244.60H328.60V246.50H329.40V257.80H376.20V264.60H403.30V272.70H438.50" fill="none" stroke="#1a1a1a" stroke-width="1.7" stroke-dasharray="1.15 0.95"/><line x1="340" y1="257.00" x2="340" y2="259.60" stroke="#444" stroke-width="0.5"/><line x1="383" y1="263.80" x2="383" y2="266.40" stroke="#444" stroke-width="0.5"/><line x1="420" y1="271.90" x2="420" y2="274.50" stroke="#444" stroke-width="0.5"/></g>
</svg></body></html>
